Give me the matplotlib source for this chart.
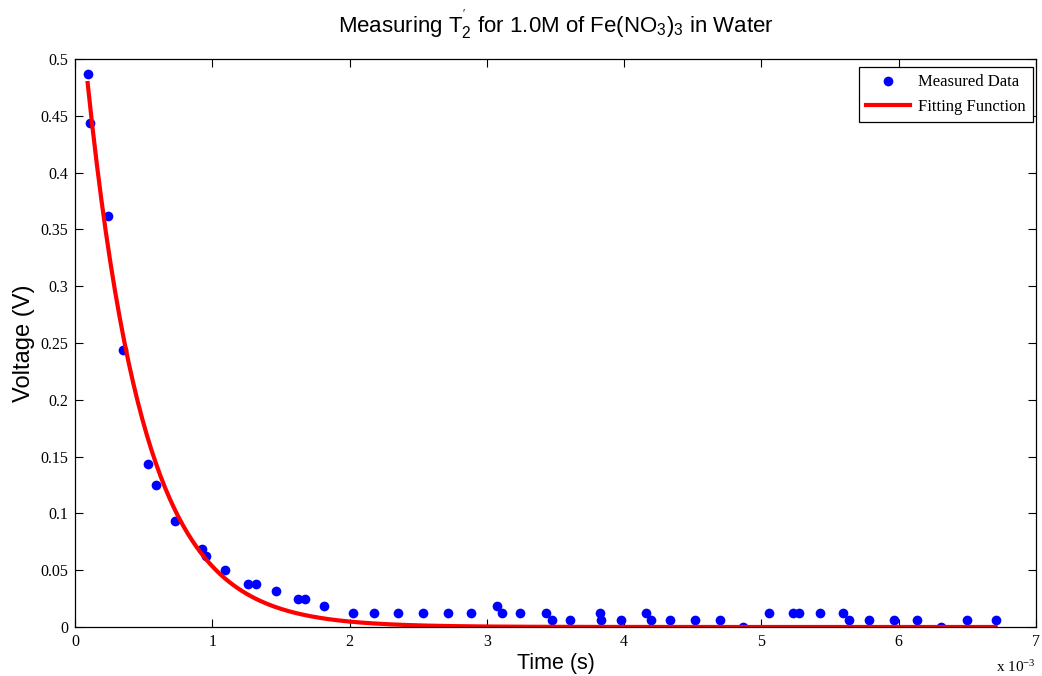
import numpy as np
import matplotlib
matplotlib.use("Agg")
import matplotlib.pyplot as plt
from matplotlib.ticker import FuncFormatter

plt.rcParams['mathtext.fontset'] = 'custom'
plt.rcParams['mathtext.rm'] = 'Liberation Sans'
plt.rcParams['mathtext.it'] = 'Liberation Sans'

# measured spin echo amplitude, time in ms
time_ms = [0.092, 0.111, 0.238, 0.351, 0.533, 0.591, 0.729, 0.925, 0.957, 1.093,
           1.262, 1.318, 1.466, 1.621, 1.677, 1.815, 2.025, 2.175, 2.355, 2.534,
           2.716, 2.883, 3.074, 3.113, 3.244, 3.433, 3.476, 3.607, 3.823, 3.832,
           3.975, 4.162, 4.193, 4.335, 4.513, 4.695, 4.867, 5.056, 5.228, 5.276,
           5.426, 5.594, 5.635, 5.785, 5.964, 6.136, 6.306, 6.497, 6.706]
voltage = [0.487, 0.444, 0.362, 0.2436, 0.1438, 0.125, 0.0936, 0.069, 0.0625, 0.050,
           0.0375, 0.0375, 0.03125, 0.025, 0.025, 0.01875, 0.0125, 0.0125, 0.0125, 0.0125,
           0.0125, 0.0125, 0.01875, 0.0125, 0.0125, 0.0125, 0.00625, 0.00625, 0.0125, 0.00625,
           0.00625, 0.0125, 0.00625, 0.00625, 0.00625, 0.00625, 0.0, 0.0125, 0.0125, 0.0125,
           0.0125, 0.0125, 0.00625, 0.00625, 0.00625, 0.00625, 0.0, 0.00625, 0.00625]

# fit parameters: V(t) = A * exp(-t / T2')
fit_A = 0.598
fit_T2 = 0.414e-3

t = np.array(time_ms) * 1e-3
v = np.array(voltage)
t_fit = np.linspace(t[0], t[-1], 400)
v_fit = fit_A * np.exp(-t_fit / fit_T2)

fig = plt.figure(figsize=(10.42, 6.76), dpi=100)
ax = fig.add_axes([0.072, 0.0725, 0.9222, 0.8402])

ax.plot(t, v, 'o', color='blue', markersize=7, markeredgewidth=0, label='Measured Data')
ax.plot(t_fit, v_fit, '-', color='red', linewidth=3, label='Fitting Function')

ax.set_xlim(0, 7e-3)
ax.set_ylim(0, 0.5)
ax.set_xticks(np.arange(0, 8) * 1e-3)
ax.set_yticks(np.arange(0, 0.51, 0.05))
ax.xaxis.set_major_formatter(FuncFormatter(lambda x, p: '%g' % round(x * 1e3, 6)))
ax.yaxis.set_major_formatter(FuncFormatter(lambda y, p: '%g' % round(y, 4)))
ax.tick_params(direction='in', top=True, right=True, length=6, width=0.8,
               labelsize=11.5, pad=5)
for lab in ax.get_xticklabels() + ax.get_yticklabels():
    lab.set_fontfamily('Liberation Serif')
for s in ax.spines.values():
    s.set_linewidth(0.9)

ax.text(1.0, -0.055, r'x 10$^{\mathregular{-3}}$', transform=ax.transAxes,
        ha='right', va='top', fontsize=11, family='Liberation Serif')

ax.set_xlabel('Time (s)', fontsize=15.5, family='Liberation Sans', labelpad=2)
ax.set_ylabel('Voltage (V)', fontsize=17, family='Liberation Sans', labelpad=4)
ax.set_title(r"Measuring T$_2^{'}$ for 1.0M of Fe(NO$_3$)$_3$ in Water",
             fontsize=16, family='Liberation Sans', pad=19)

leg = ax.legend(loc='upper right', bbox_to_anchor=(1033 / 1042, 1 - 67 / 676),
                bbox_transform=fig.transFigure, borderaxespad=0,
                prop={'family': 'Liberation Serif', 'size': 12},
                fancybox=False, framealpha=1, edgecolor='black', borderpad=0.45,
                handlelength=2.6, handletextpad=0.5, labelspacing=0.5)
leg.get_frame().set_linewidth(0.9)

fig.savefig('out.png', dpi=100)
